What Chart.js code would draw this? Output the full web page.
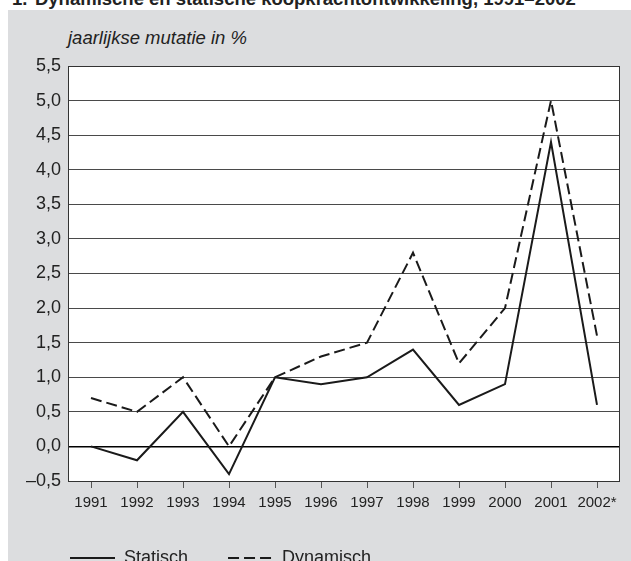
<!DOCTYPE html>
<html>
<head>
<meta charset="utf-8">
<script src="https://cdn.jsdelivr.net/npm/chart.js@4/dist/chart.umd.min.js"></script>
<style>
	body { margin: 0; background: #fff; overflow: hidden; font-family: 'Liberation Sans', Arial, sans-serif; color: #222 }
	#kop { position: absolute; left: 12px; top: -10.5px; font-weight: bold; font-size: 18.5px; line-height: 18.5px; white-space: nowrap }
	#kop span { margin-left: 7.5px }
	#paneel { position: absolute; left: 8px; top: 10px; width: 623px; height: 580px; background: #dcdddf }
	#eenheid { position: absolute; left: 60px; top: 19.3px; font-style: italic; font-size: 18.5px; line-height: 18.5px; white-space: nowrap }
	canvas { position: absolute; left: 0; top: 0 }
</style>
</head>
<body>
<div id="kop">1.<span>Dynamische en statische koopkrachtontwikkeling, 1991–2002</span></div>
<div id="paneel">
	<div id="eenheid">jaarlijkse mutatie in %</div>
	<canvas id="grafiek" width="623" height="567"></canvas>
</div>
<script>
// waarden
let jaren = ['1991', '1992', '1993', '1994', '1995', '1996', '1997', '1998', '1999', '2000', '2001', '2002*']
let statisch = [0.0, -0.2, 0.5, -0.4, 1.0, 0.9, 1.0, 1.4, 0.6, 0.9, 4.4, 0.6]
let dynamisch = [0.7, 0.5, 1.0, 0.0, 1.0, 1.3, 1.5, 2.8, 1.2, 2.0, 5.0, 1.6]
let yMin = -0.5
let yMax = 5.5
let yStap = 0.5

let grafiek = (() => {
	let inkt = '#1a1a1a'

	// witte plotvlak + rand
	let kader = {
		id: 'kader',
		beforeDraw: chart => {
			let { ctx, chartArea: a } = chart
			ctx.save()
			ctx.fillStyle = '#fff'
			ctx.fillRect(a.left, a.top, a.right - a.left, a.bottom - a.top)
			ctx.restore()
		},
		afterDraw: chart => {
			let { ctx, chartArea: a } = chart
			ctx.save()
			ctx.strokeStyle = '#333'
			ctx.lineWidth = 1
			ctx.strokeRect(a.left + 0.5, a.top + 0.5, a.right - a.left - 1, a.bottom - a.top)
			ctx.restore()
		}
	}

	// legenda iets naar rechts, los van de y-as
	let schuif = {
		id: 'schuif',
		afterLayout: chart => {
			chart.legend.left += 8
			chart.legend.right += 8
		}
	}

	let komma = v => v.toFixed(1).replace('.', ',').replace('-', '–')

	// legenda-lijntjes met het streepjespatroon van de dataset
	let legendaItems = chart =>
		Chart.defaults.plugins.legend.labels.generateLabels(chart).map(item => {
			let ds = chart.data.datasets[item.datasetIndex]
			item.lineDash = ds.borderDash || []
			item.lineWidth = ds.borderWidth
			item.strokeStyle = ds.borderColor
			return item
		})

	let onCreate = () => {
		Chart.defaults.font.family = "'Liberation Sans', Arial, sans-serif"
		Chart.defaults.color = '#222'
		new Chart(document.getElementById('grafiek'), {
			type: 'line',
			data: {
				labels: jaren,
				datasets: [
					{
						label: 'Statisch',
						data: statisch,
						borderColor: inkt,
						backgroundColor: 'transparent',
						borderWidth: 2,
						pointRadius: 0,
						tension: 0
					},
					{
						label: 'Dynamisch',
						data: dynamisch,
						borderColor: inkt,
						backgroundColor: 'transparent',
						borderWidth: 2,
						borderDash: [11, 5],
						pointRadius: 0,
						tension: 0
					}
				]
			},
			options: {
				responsive: false,
				animation: false,
				layout: { padding: { left: 14, right: 11, top: 56, bottom: 0 } },
				plugins: {
					tooltip: { enabled: false },
					legend: {
						position: 'bottom',
						align: 'start',
						labels: {
							usePointStyle: true,
							pointStyle: 'line',
							pointStyleWidth: 45,
							padding: 40,
							font: { size: 18 },
							color: '#222',
							generateLabels: legendaItems
						}
					}
				},
				scales: {
					x: {
						offset: true,
						afterFit: s => { s.height = 28 },
						grid: {
							offset: false,
							drawOnChartArea: false,
							drawTicks: true,
							tickLength: 7,
							color: '#555'
						},
						border: { display: false },
						ticks: { font: { size: 15 }, padding: 6, maxRotation: 0, autoSkip: false }
					},
					y: {
						min: yMin,
						max: yMax,
						afterFit: s => { s.width = 46 },
						grid: {
							drawTicks: false,
							color: c => c.tick && c.tick.value === 0 ? '#000' : '#4a4a4a',
							lineWidth: c => c.tick && c.tick.value === 0 ? 1.6 : 1
						},
						border: { display: false },
						ticks: { stepSize: yStap, padding: 7, font: { size: 18 }, callback: v => komma(v) }
					}
				}
			},
			plugins: [kader, schuif]
		})
	}
	return { onCreate }
})()

grafiek.onCreate()
</script>
</body>
</html>
